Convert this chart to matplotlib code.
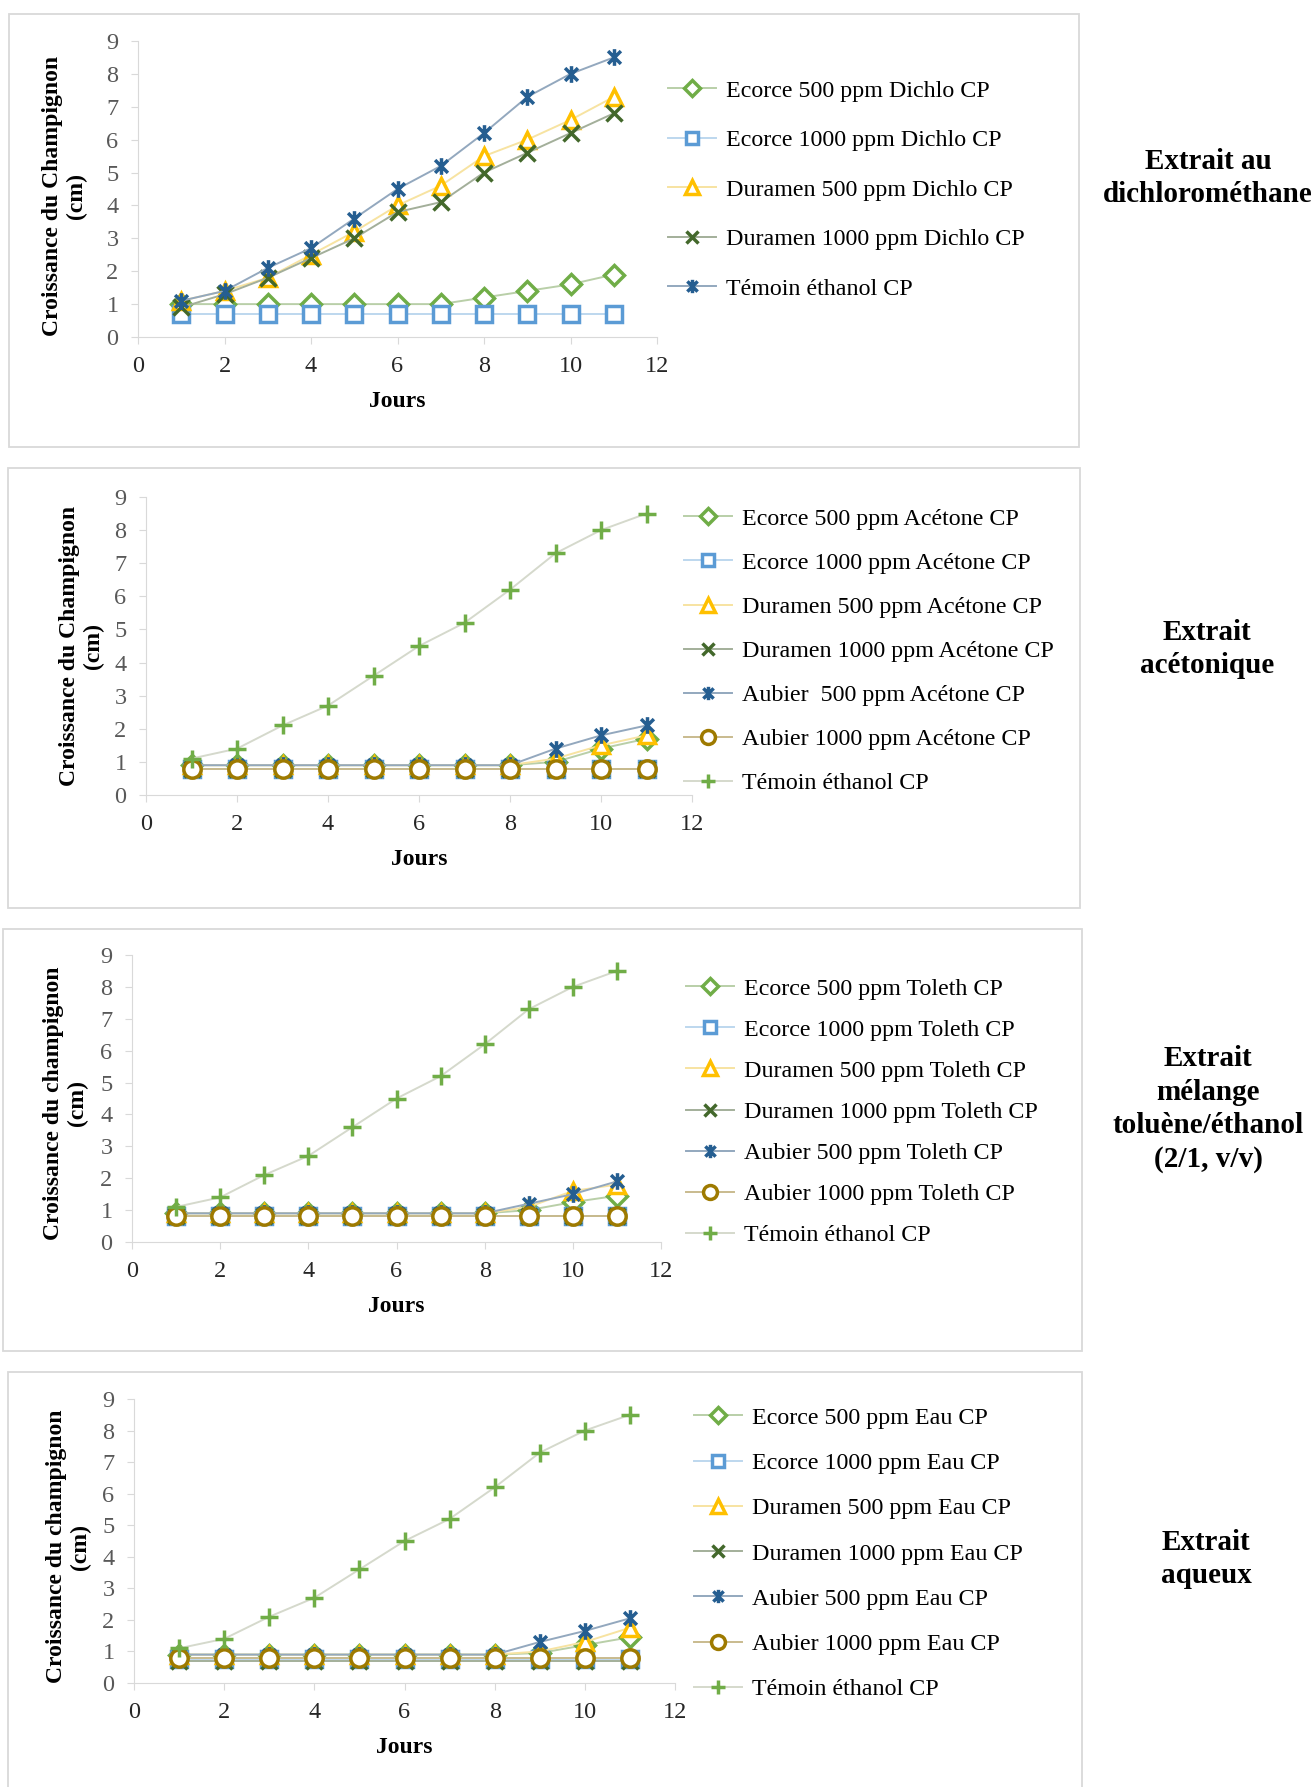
import matplotlib.pyplot as plt
from matplotlib.path import Path
from matplotlib.patches import Rectangle

plt.rcParams['font.family'] = ['Liberation Serif', 'DejaVu Serif']

jours = [1, 2, 3, 4, 5, 6, 7, 8, 9, 10, 11]
temoin = [1.1, 1.4, 2.1, 2.7, 3.6, 4.5, 5.2, 6.2, 7.3, 8.0, 8.5]

# dichloromethane
dichlo_ecorce_500 = [1.0, 1.0, 1.0, 1.0, 1.0, 1.0, 1.0, 1.2, 1.4, 1.6, 1.9]
dichlo_ecorce_1000 = [0.7, 0.7, 0.7, 0.7, 0.7, 0.7, 0.7, 0.7, 0.7, 0.7, 0.7]
dichlo_duramen_500 = [1.1, 1.4, 1.8, 2.5, 3.2, 4.0, 4.6, 5.5, 6.0, 6.6, 7.3]
dichlo_duramen_1000 = [0.9, 1.3, 1.8, 2.4, 3.0, 3.8, 4.1, 5.0, 5.6, 6.2, 6.8]

# acetone
acet_ecorce_500 = [0.9, 0.9, 0.9, 0.9, 0.9, 0.9, 0.9, 0.9, 1.0, 1.4, 1.7]
acet_ecorce_1000 = [0.8, 0.8, 0.8, 0.8, 0.8, 0.8, 0.8, 0.8, 0.8, 0.8, 0.8]
acet_duramen_500 = [0.9, 0.9, 0.9, 0.9, 0.9, 0.9, 0.9, 0.9, 1.1, 1.5, 1.8]
acet_duramen_1000 = [0.8, 0.8, 0.8, 0.8, 0.8, 0.8, 0.8, 0.8, 0.8, 0.8, 0.8]
acet_aubier_500 = [0.9, 0.9, 0.9, 0.9, 0.9, 0.9, 0.9, 0.9, 1.4, 1.8, 2.1]
acet_aubier_1000 = [0.8, 0.8, 0.8, 0.8, 0.8, 0.8, 0.8, 0.8, 0.8, 0.8, 0.8]

# toluene/ethanol
tol_ecorce_500 = [0.9, 0.9, 0.9, 0.9, 0.9, 0.9, 0.9, 0.9, 1.0, 1.25, 1.45]
tol_ecorce_1000 = [0.8, 0.8, 0.8, 0.8, 0.8, 0.8, 0.8, 0.8, 0.8, 0.8, 0.8]
tol_duramen_500 = [0.9, 0.9, 0.9, 0.9, 0.9, 0.9, 0.9, 0.9, 1.1, 1.6, 1.8]
tol_duramen_1000 = [0.8, 0.8, 0.8, 0.8, 0.8, 0.8, 0.8, 0.8, 0.8, 0.8, 0.8]
tol_aubier_500 = [0.9, 0.9, 0.9, 0.9, 0.9, 0.9, 0.9, 0.9, 1.2, 1.5, 1.9]
tol_aubier_1000 = [0.8, 0.8, 0.8, 0.8, 0.8, 0.8, 0.8, 0.8, 0.8, 0.8, 0.8]

# eau
eau_ecorce_500 = [0.9, 0.9, 0.9, 0.9, 0.9, 0.9, 0.9, 0.9, 0.95, 1.2, 1.45]
eau_ecorce_1000 = [0.75, 0.75, 0.75, 0.75, 0.75, 0.75, 0.75, 0.75, 0.75, 0.75, 0.75]
eau_duramen_500 = [0.9, 0.9, 0.9, 0.9, 0.9, 0.9, 0.9, 0.9, 1.0, 1.3, 1.75]
eau_duramen_1000 = [0.7, 0.7, 0.7, 0.7, 0.7, 0.7, 0.7, 0.7, 0.7, 0.7, 0.7]
eau_aubier_500 = [0.9, 0.9, 0.9, 0.9, 0.9, 0.9, 0.9, 0.9, 1.3, 1.65, 2.05]
eau_aubier_1000 = [0.8, 0.8, 0.8, 0.8, 0.8, 0.8, 0.8, 0.8, 0.8, 0.8, 0.8]

W, H = 1316, 1787
fig = plt.figure(figsize=(W / 100, H / 100), dpi=100)

STAR = Path([(-1, -1), (1, 1), (-1, 1), (1, -1), (0, -1.3), (0, 1.3)],
            [Path.MOVETO, Path.LINETO, Path.MOVETO, Path.LINETO, Path.MOVETO, Path.LINETO])

styles = {
    'ec500': dict(marker='D', ms=10, mfc='white', mec='#70AD47', color='#B9CFA8'),
    'ec1000': dict(marker='s', ms=11.5, mfc='white', mec='#5B9BD5', color='#BDD7EE'),
    'du500': dict(marker='^', ms=12, mfc='white', mec='#FFC000', color='#F7E3A1'),
    'du1000': dict(marker='x', ms=11, mec='#43682B', color='#A3AF9A'),
    'au500': dict(marker=STAR, ms=12, mec='#255E91', color='#93A8BE'),
    'au1000': dict(marker='o', ms=12.5, mfc='white', mec='#9E7A00', color='#C9BB8E'),
    'plus': dict(marker='+', ms=13, mec='#70AD47', color='#D5D9CC'),
}


def frame(x0, y0, x1, y1):
    fig.add_artist(Rectangle((x0 / W, 1 - y1 / H), (x1 - x0) / W, (y1 - y0) / H,
                             transform=fig.transFigure, fill=False, ec='#D9D9D9', lw=1.3))


def make_axes(x0, x12, y0, y9, ylabel, lab_x, lab_y):
    ax = fig.add_axes([x0 / W, 1 - y0 / H, (x12 - x0) / W, (y0 - y9) / H])
    ax.set_xlim(0, 12)
    ax.set_ylim(0, 9)
    ax.set_xticks(range(0, 13, 2))
    ax.set_yticks(range(10))
    for s in ['top', 'right']:
        ax.spines[s].set_visible(False)
    for s in ['left', 'bottom']:
        ax.spines[s].set_color('#D9D9D9')
    ax.tick_params(colors='#D9D9D9', labelcolor='#595959', labelsize=17.5, length=5, pad=9)
    ax.tick_params(axis='x', labelcolor='#262626')
    ax.set_xlabel('Jours', fontsize=17, fontweight='bold', labelpad=10)
    ax.text(lab_x, lab_y, ylabel, transform=ax.transAxes, rotation=90, ha='center',
            va='center', multialignment='center', fontsize=17, fontweight='bold',
            linespacing=1.2)
    return ax


def draw(ax, series, legend_xy, spacing):
    for label, values, key in series:
        ax.plot(jours, values, label=label, lw=1.4, mew=2.5, **styles[key])
    ax.legend(loc='upper left', bbox_to_anchor=(legend_xy[0] / W, 1 - legend_xy[1] / H),
              bbox_transform=fig.transFigure, frameon=False, fontsize=17.3,
              handlelength=2.0, handletextpad=0.4, labelspacing=spacing,
              borderpad=0, borderaxespad=0, markerscale=0.8)


# panel 1
frame(9, 14, 1079, 447)
ax1 = make_axes(138, 657, 337, 41, 'Croissance du Champignon\n(cm)', -0.141, 0.476)
draw(ax1, [
    ('Ecorce 500 ppm Dichlo CP', dichlo_ecorce_500, 'ec500'),
    ('Ecorce 1000 ppm Dichlo CP', dichlo_ecorce_1000, 'ec1000'),
    ('Duramen 500 ppm Dichlo CP', dichlo_duramen_500, 'du500'),
    ('Duramen 1000 ppm Dichlo CP', dichlo_duramen_1000, 'du1000'),
    ('Témoin éthanol CP', temoin, 'au500'),
], (668, 80), 1.15)

# panel 2
frame(8, 468, 1080, 908)
ax2 = make_axes(146, 692, 795, 497, 'Croissance du Champignon\n(cm)', -0.118, 0.5)
draw(ax2, [
    ('Ecorce 500 ppm Acétone CP', acet_ecorce_500, 'ec500'),
    ('Ecorce 1000 ppm Acétone CP', acet_ecorce_1000, 'ec1000'),
    ('Duramen 500 ppm Acétone CP', acet_duramen_500, 'du500'),
    ('Duramen 1000 ppm Acétone CP', acet_duramen_1000, 'du1000'),
    ('Aubier  500 ppm Acétone CP', acet_aubier_500, 'au500'),
    ('Aubier 1000 ppm Acétone CP', acet_aubier_1000, 'au1000'),
    ('Témoin éthanol CP', temoin, 'plus'),
], (684, 508), 0.925)

# panel 3
frame(3, 929, 1082, 1351)
ax3 = make_axes(132, 661, 1242, 955, 'Croissance du champignon\n(cm)', -0.126, 0.484)
draw(ax3, [
    ('Ecorce 500 ppm Toleth CP', tol_ecorce_500, 'ec500'),
    ('Ecorce 1000 ppm Toleth CP', tol_ecorce_1000, 'ec1000'),
    ('Duramen 500 ppm Toleth CP', tol_duramen_500, 'du500'),
    ('Duramen 1000 ppm Toleth CP', tol_duramen_1000, 'du1000'),
    ('Aubier 500 ppm Toleth CP', tol_aubier_500, 'au500'),
    ('Aubier 1000 ppm Toleth CP', tol_aubier_1000, 'au1000'),
    ('Témoin éthanol CP', temoin, 'plus'),
], (686, 978), 0.80)

# panel 4
frame(8, 1372, 1082, 1800)
ax4 = make_axes(134, 675, 1683, 1399, 'Croissance du champignon\n(cm)', -0.121, 0.48)
draw(ax4, [
    ('Ecorce 500 ppm Eau CP', eau_ecorce_500, 'ec500'),
    ('Ecorce 1000 ppm Eau CP', eau_ecorce_1000, 'ec1000'),
    ('Duramen 500 ppm Eau CP', eau_duramen_500, 'du500'),
    ('Duramen 1000 ppm Eau CP', eau_duramen_1000, 'du1000'),
    ('Aubier 500 ppm Eau CP', eau_aubier_500, 'au500'),
    ('Aubier 1000 ppm Eau CP', eau_aubier_1000, 'au1000'),
    ('Témoin éthanol CP', temoin, 'plus'),
], (694, 1407), 0.975)

side = [
    ('Extrait au\ndichlorométhane', 1208, 178),
    ('Extrait\nacétonique', 1207, 649),
    ('Extrait\nmélange\ntoluène/éthanol\n(2/1, v/v)', 1208, 1109),
    ('Extrait\naqueux', 1206, 1559),
]
for txt, x, y in side:
    fig.text(x / W, 1 - y / H, txt, ha='center', va='center', fontsize=21,
             fontweight='bold', linespacing=1.3)

fig.savefig('out.png', dpi=100, facecolor='white')
